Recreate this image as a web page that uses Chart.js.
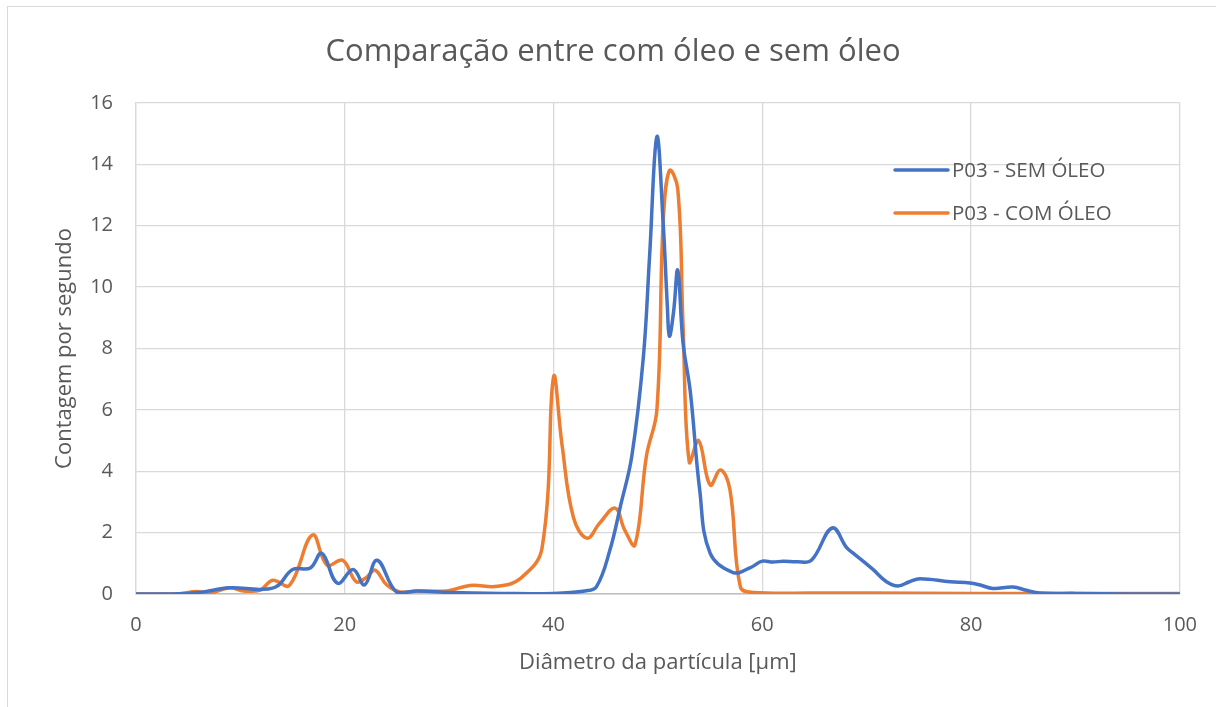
<!DOCTYPE html>
<html>
<head>
<meta charset="utf-8">
<script src="https://cdn.jsdelivr.net/npm/chart.js@4.4.1/dist/chart.umd.min.js"></script>
<style>
    html, body { margin: 0; padding: 0; background: #fff; overflow: hidden; }
    #frame {
        position: absolute; left: 7px; top: 6px; width: 1300px; height: 800px;
        border-top: 1.5px solid #d9d9d9; border-left: 1.5px solid #d9d9d9;
    }
    #wrap { position: absolute; left: 0; top: 0; width: 1216px; height: 707px; }
</style>
</head>
<body>
<div id="frame"></div>
<div id="wrap"><canvas id="grafico"></canvas></div>
<script>
// P03 - SEM ÓLEO
const diametroSem = [0, 3, 6, 9, 12, 13.5, 15, 16.7, 17.8, 19.3, 20.8, 21.9, 23.1, 25, 27, 30, 35, 40, 43, 44.1, 45.4, 46.4, 47.5, 48.6, 49.2, 49.9, 50.5, 50.9, 51.1, 51.5, 51.9, 52.4, 53.1, 54, 55, 57.2, 58.8, 60, 61, 62, 63.3, 64.7, 66.7, 68.1, 68.7, 70.6, 71.9, 73, 74.1, 75.1, 78, 79.9, 80.8, 82.1, 84, 85.3, 86.6, 90, 95, 100];
const contagemSem = [0, 0, 0.05, 0.2, 0.15, 0.25, 0.8, 0.85, 1.33, 0.35, 0.8, 0.3, 1.1, 0.05, 0.1, 0.05, 0.02, 0.02, 0.1, 0.23, 1.43, 2.85, 4.5, 7.7, 11, 14.9, 12.1, 9.4, 8.4, 9.2, 10.55, 8.2, 6.6, 3.4, 1.33, 0.7, 0.85, 1.07, 1.04, 1.07, 1.05, 1.1, 2.15, 1.5, 1.33, 0.8, 0.4, 0.26, 0.4, 0.5, 0.4, 0.36, 0.3, 0.18, 0.23, 0.12, 0.03, 0.02, 0, 0];

// P03 - COM ÓLEO
const diametroCom = [0, 4, 5.8, 7.1, 9, 10.3, 11.9, 13.1, 14.7, 16.9, 18.3, 19.8, 21.1, 22.1, 22.9, 24, 25.3, 27, 29.8, 32, 34.6, 36.8, 38.9, 40, 40.8, 41.9, 43.2, 44.4, 45.9, 46.8, 47.8, 48.9, 49.9, 50.5, 51.1, 51.9, 52.4, 53, 53.9, 55, 56, 56.9, 57.9, 59.1, 65, 70, 80, 90, 100];
const contagemCom = [0, 0, 0.08, 0.03, 0.2, 0.1, 0.13, 0.45, 0.28, 1.92, 0.94, 1.1, 0.4, 0.55, 0.78, 0.3, 0.07, 0.1, 0.1, 0.28, 0.25, 0.5, 1.5, 7.07, 4.9, 2.5, 1.82, 2.3, 2.8, 2.1, 1.6, 4.5, 6.0, 12.1, 13.8, 13.2, 8.8, 4.3, 5.0, 3.55, 4.04, 3.4, 0.23, 0.05, 0.03, 0.03, 0.02, 0.02, 0.02];

const nomesSeries = ['P03 - SEM ÓLEO', 'P03 - COM ÓLEO'];
const coresSeries = ['#4472C4', '#ED7D31'];
const tituloGrafico = 'Comparação entre com óleo e sem óleo';

const corTexto = '#595959';
const fonte = "'Open Sans', 'Noto Sans', sans-serif";

function pontos(xs, ys) {
    return xs.map((x, i) => ({ x: x, y: ys[i] }));
}

// title centred on the whole frame, not on the plot
const tituloCentral = {
    id: 'tituloCentral',
    afterDraw(chart) {
        const { ctx } = chart;
        ctx.save();
        ctx.font = '31px ' + fonte;
        ctx.fillStyle = corTexto;
        ctx.textAlign = 'center';
        ctx.textBaseline = 'alphabetic';
        ctx.fillText(tituloGrafico, 613, 61);
        ctx.restore();
    }
};

// legend drawn inside the plot, top right
const legendaInterna = {
    id: 'legendaInterna',
    afterDatasetsDraw(chart) {
        const { ctx } = chart;
        const x0 = 895, x1 = 948;
        const linhas = [170, 213];
        ctx.save();
        ctx.font = '20.5px ' + fonte;
        ctx.textBaseline = 'middle';
        chart.data.datasets.forEach((ds, i) => {
            ctx.strokeStyle = ds.borderColor;
            ctx.lineWidth = 3.5;
            ctx.lineCap = 'round';
            ctx.beginPath();
            ctx.moveTo(x0, linhas[i]);
            ctx.lineTo(x1, linhas[i]);
            ctx.stroke();
            ctx.fillStyle = corTexto;
            ctx.fillText(ds.label, x1 + 4, linhas[i] + 1);
        });
        ctx.restore();
    }
};

const ctx = document.getElementById('grafico').getContext('2d');

new Chart(ctx, {
    type: 'scatter',
    data: {
        datasets: [
            {
                label: nomesSeries[0],
                data: pontos(diametroSem, contagemSem),
                borderColor: coresSeries[0],
                backgroundColor: coresSeries[0]
            },
            {
                label: nomesSeries[1],
                data: pontos(diametroCom, contagemCom),
                borderColor: coresSeries[1],
                backgroundColor: coresSeries[1]
            }
        ]
    },
    options: {
        responsive: true,
        maintainAspectRatio: false,
        animation: false,
        layout: { padding: { left: 0, right: 36, top: 103, bottom: 0 } },
        elements: {
            point: { radius: 0, hoverRadius: 0 },
            line: { borderWidth: 3.5, tension: 0.4, borderCapStyle: 'round', borderJoinStyle: 'round' }
        },
        datasets: { scatter: { showLine: true } },
        plugins: {
            legend: { display: false },
            tooltip: { enabled: false },
            title: { display: false }
        },
        scales: {
            x: {
                type: 'linear',
                min: 0,
                max: 100,
                ticks: { stepSize: 20, color: corTexto, padding: 19, font: { family: fonte, size: 20 } },
                grid: { color: '#d9d9d9', lineWidth: 1.3, drawTicks: false },
                border: { color: '#bfbfbf', width: 1.5 },
                title: {
                    display: true,
                    text: 'Diâmetro da partícula [µm]',
                    color: corTexto,
                    font: { family: fonte, size: 22 },
                    padding: { top: 0, bottom: 31 }
                },
                afterFit(scale) { scale.height = 113; }
            },
            y: {
                min: 0,
                max: 16,
                ticks: { stepSize: 2, color: corTexto, padding: 23, font: { family: fonte, size: 20 } },
                grid: { color: '#d9d9d9', lineWidth: 1.3, drawTicks: false },
                border: { color: '#d9d9d9', width: 1.3 },
                title: {
                    display: true,
                    text: 'Contagem por segundo',
                    color: corTexto,
                    font: { family: fonte, size: 22 },
                    padding: { top: 52, bottom: 0 }
                },
                afterFit(scale) { scale.width = 136; }
            }
        }
    },
    plugins: [legendaInterna, tituloCentral]
});
</script>
</body>
</html>
